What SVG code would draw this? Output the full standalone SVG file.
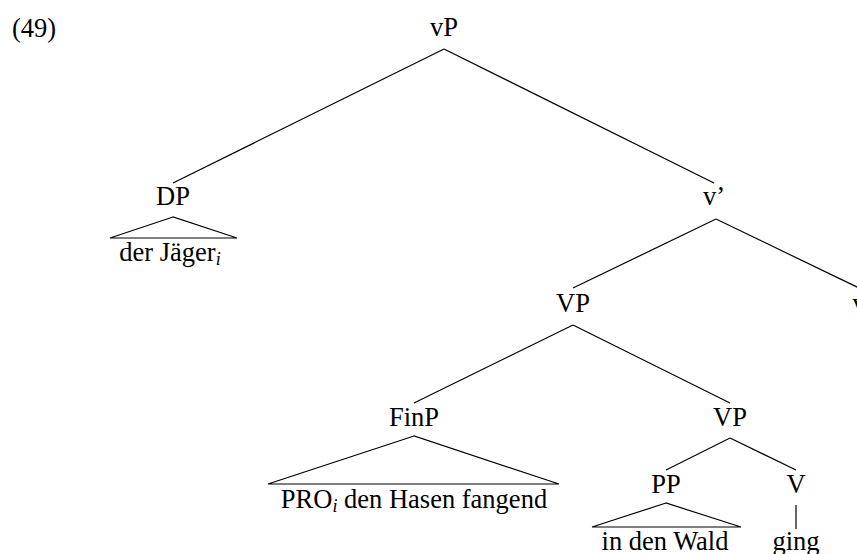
<svg xmlns="http://www.w3.org/2000/svg" width="857" height="554" viewBox="0 0 857 554">
<style>
text{font-family:"Liberation Serif","Times New Roman",Times,serif;font-size:26.5px;fill:#000;text-anchor:middle}
.sub{font-style:italic;font-size:18px}
line,polygon{stroke:#000;stroke-width:1.2;fill:none}
</style>
<rect width="857" height="554" fill="#fff"/>
<g font-family="Liberation Serif, Times New Roman, serif">
<text x="12" y="37" style="text-anchor:start">(49)</text>
<g id="vP"><text x="444" y="36">vP</text></g>
<g id="DP"><text x="173" y="205">DP</text>
<polygon points="173,217 110,238 237,238"/>
<text x="170" y="261">der Jäger<tspan class="sub" dy="4">i</tspan></text></g>
<g id="vbar"><text x="714" y="205">v’</text></g>
<g id="v"><text x="859" y="312">v</text></g>
<g id="VP1"><text x="573" y="312">VP</text></g>
<g id="FinP"><text x="414" y="426">FinP</text>
<polygon points="414,436 268,484 559,484"/>
<text x="414" y="508">PRO<tspan class="sub" dy="4">i</tspan><tspan dy="-4"> den Hasen fangend</tspan></text></g>
<g id="VP2"><text x="730" y="426">VP</text></g>
<g id="PP"><text x="666" y="493">PP</text>
<polygon points="666,503 592,527 741,527"/>
<text x="665" y="550">in den Wald</text></g>
<g id="V"><text x="796" y="493">V</text><text x="796" y="550">ging</text></g>
</g>
<g id="connectors">
<line x1="444" y1="49" x2="173" y2="183"/>
<line x1="444" y1="49" x2="714" y2="183"/>
<line x1="716" y1="219" x2="573" y2="288"/>
<line x1="716" y1="219" x2="859" y2="288"/>
<line x1="573" y1="325" x2="414" y2="403"/>
<line x1="573" y1="325" x2="730" y2="403"/>
<line x1="730" y1="438" x2="666" y2="470"/>
<line x1="730" y1="438" x2="796" y2="470"/>
<line x1="796" y1="505" x2="796" y2="529"/>
</g>
</svg>
